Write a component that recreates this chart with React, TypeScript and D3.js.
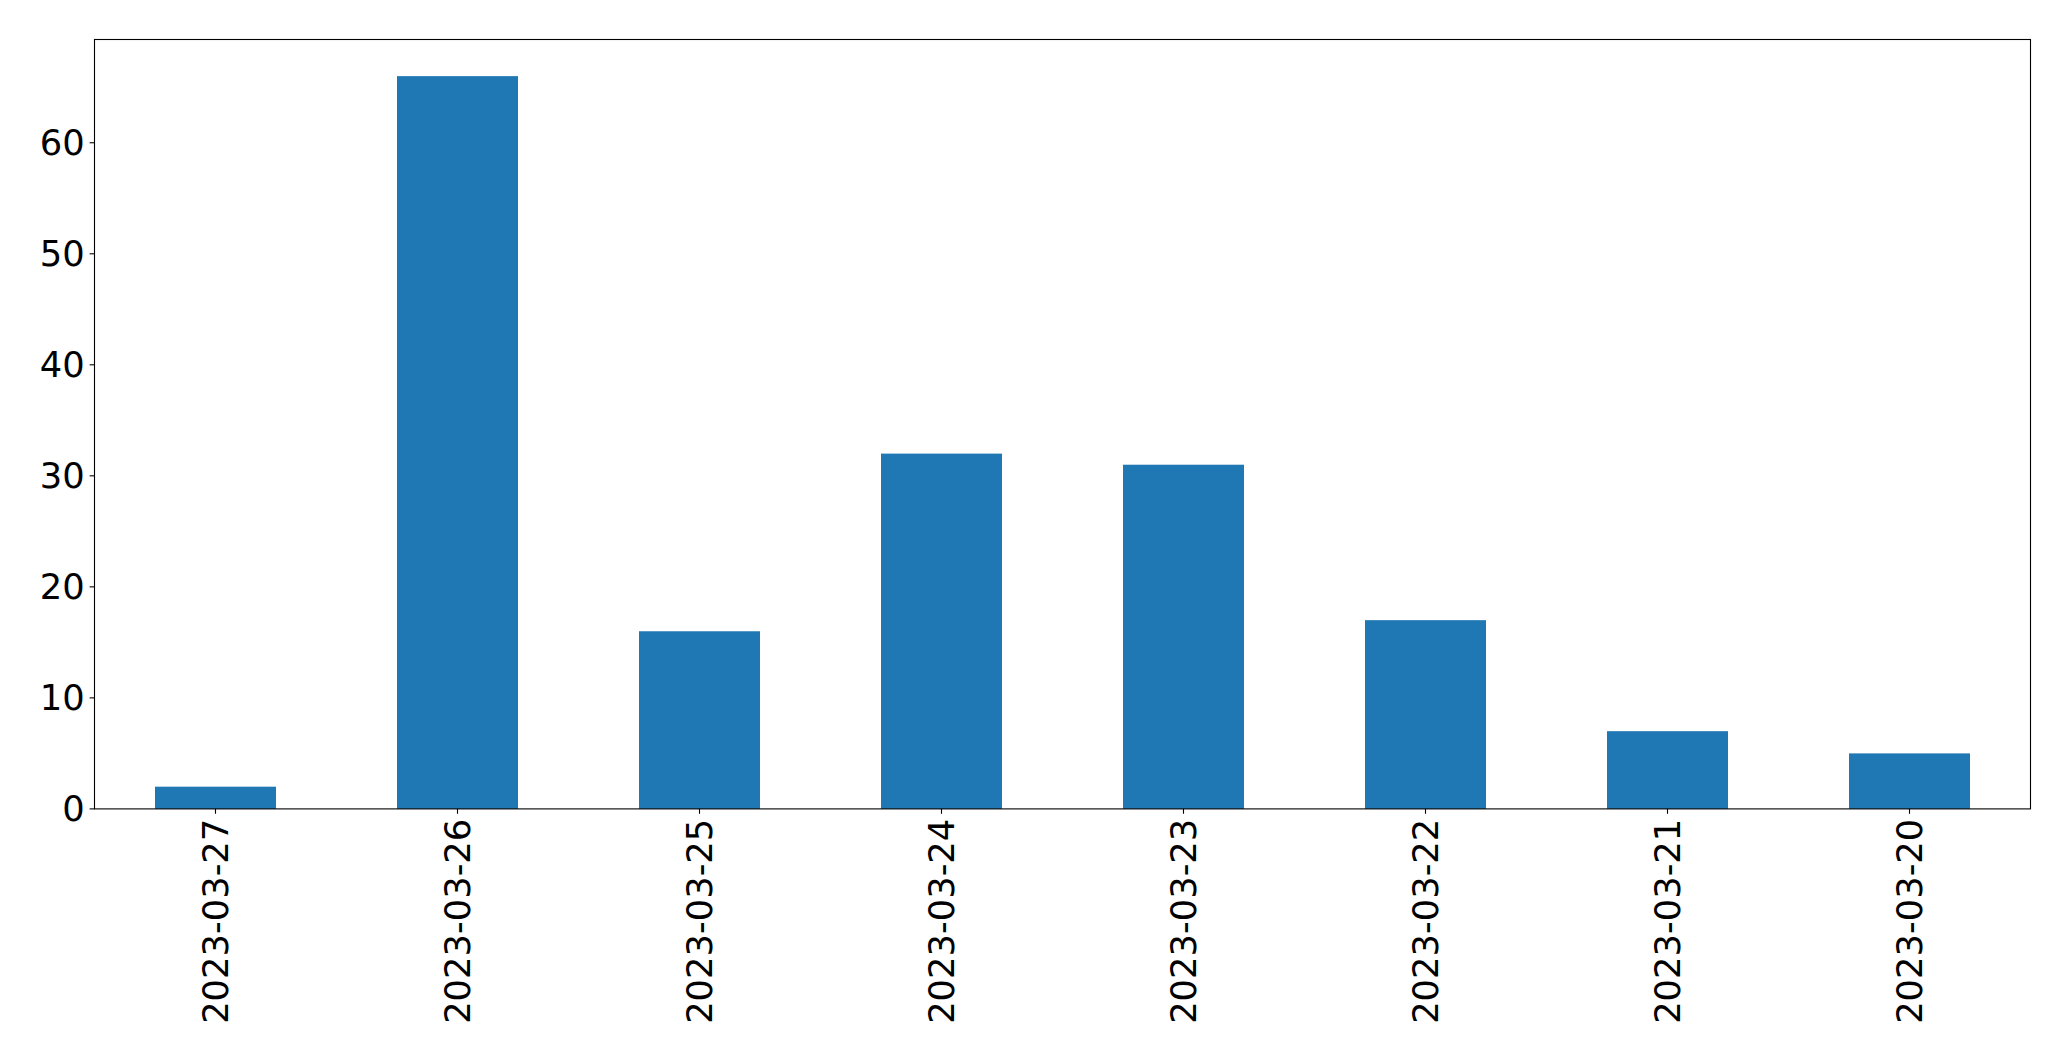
import React, { useEffect, useRef } from "react";
import * as d3 from "d3";

const categories = [
  "2023-03-27",
  "2023-03-26",
  "2023-03-25",
  "2023-03-24",
  "2023-03-23",
  "2023-03-22",
  "2023-03-21",
  "2023-03-20",
];
const values = [2, 66, 16, 32, 31, 17, 7, 5];
const yTicks = [0, 10, 20, 30, 40, 50, 60];

const W = 2071;
const H = 1061;
const M = { left: 94.5, right: 2030.5, top: 39.5, bottom: 808.9 };
const FONT = "'DejaVu Sans', sans-serif";
const FS = 35.3;
const TICK = 4.9;
const PAD = 4.9;

export default function App() {
  const ref = useRef<SVGSVGElement>(null);

  useEffect(() => {
    const svg = d3.select(ref.current);
    svg.selectAll("*").remove();

    const x = d3
      .scaleBand<string>()
      .domain(categories)
      .range([M.left, M.right])
      .paddingInner(0.5)
      .paddingOuter(0.25);
    const ymax = d3.max(values)! * 1.05;
    const y = d3.scaleLinear().domain([0, ymax]).range([M.bottom, M.top]);

    svg
      .append("rect")
      .attr("width", W)
      .attr("height", H)
      .attr("fill", "white");

    svg
      .append("g")
      .selectAll("rect")
      .data(values)
      .join("rect")
      .attr("x", (_, i) => x(categories[i])!)
      .attr("width", x.bandwidth())
      .attr("y", (d) => y(d))
      .attr("height", (d) => y(0) - y(d))
      .attr("fill", "#1f77b4");

    // y ticks
    const gy = svg.append("g");
    yTicks.forEach((t) => {
      gy.append("line")
        .attr("x1", M.left - TICK)
        .attr("x2", M.left)
        .attr("y1", y(t))
        .attr("y2", y(t))
        .attr("stroke", "black")
        .attr("stroke-width", 1.1);
      gy.append("text")
        .attr("x", M.left - TICK - PAD)
        .attr("y", y(t))
        .attr("text-anchor", "end")
        .attr("dominant-baseline", "central")
        .attr("font-family", FONT)
        .attr("font-size", FS)
        .attr("fill", "black")
        .text(String(t));
    });

    // x ticks
    const gx = svg.append("g");
    categories.forEach((c) => {
      const cx = x(c)! + x.bandwidth() / 2;
      gx.append("line")
        .attr("x1", cx)
        .attr("x2", cx)
        .attr("y1", M.bottom)
        .attr("y2", M.bottom + TICK)
        .attr("stroke", "black")
        .attr("stroke-width", 1.1);
      gx.append("text")
        .attr(
          "transform",
          `translate(${cx},${M.bottom + TICK + PAD}) rotate(-90)`
        )
        .attr("text-anchor", "end")
        .attr("dominant-baseline", "central")
        .attr("font-family", FONT)
        .attr("font-size", FS)
        .attr("fill", "black")
        .text(c);
    });

    // frame
    svg
      .append("rect")
      .attr("x", M.left)
      .attr("y", M.top)
      .attr("width", M.right - M.left)
      .attr("height", M.bottom - M.top)
      .attr("fill", "none")
      .attr("stroke", "black")
      .attr("stroke-width", 1.1);
  }, []);

  return (
    <svg
      ref={ref}
      width={W}
      height={H}
      style={{ position: "absolute", left: 0, top: 0, display: "block" }}
    />
  );
}
